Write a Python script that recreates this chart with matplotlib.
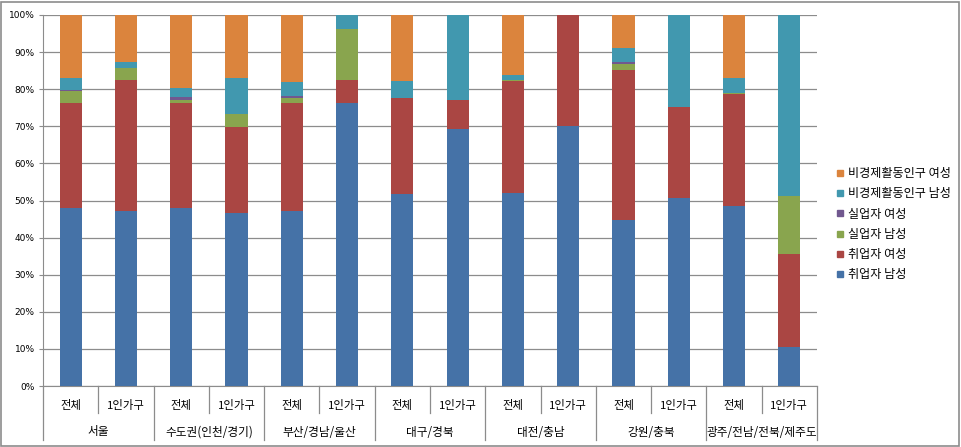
import matplotlib
matplotlib.use("Agg")
import matplotlib.pyplot as plt
from matplotlib.lines import Line2D
from matplotlib.patches import Rectangle
import matplotlib.transforms as mtrans
import numpy as np

plt.rcParams['font.family'] = ['Noto Sans CJK KR', 'DejaVu Sans']

groups = ["서울", "수도권(인천/경기)", "부산/경남/울산", "대구/경북", "대전/충남", "강원/충북", "광주/전남/전북/제주도"]
subcats = ["전체", "1인가구"]

series_names = ["취업자 남성", "취업자 여성", "실업자 남성", "실업자 여성", "비경제활동인구 남성", "비경제활동인구 여성"]
colors = ["#4572A7", "#AA4643", "#89A54E", "#71588F", "#4198AF", "#DB843D"]

emp_m = [48.0, 47.2, 48.0, 46.5, 47.2, 76.4, 51.7, 69.2, 52.0, 70.0, 44.7, 50.6, 48.4, 10.6]
emp_f = [28.4, 35.4, 28.4, 23.3, 29.2, 6.2, 25.8, 8.0, 30.3, 30.0, 40.6, 24.6, 30.2, 25.1]
unemp_m = [3.1, 3.1, 0.7, 3.4, 1.1, 13.7, 0.0, 0.0, 0.3, 0.0, 1.6, 0.0, 0.4, 15.4]
unemp_f = [0.3, 0.1, 0.7, 0.0, 0.8, 0.0, 0.0, 0.0, 0.0, 0.0, 0.3, 0.0, 0.0, 0.0]
inact_m = [3.1, 1.5, 2.4, 9.7, 3.6, 3.7, 4.8, 22.8, 1.2, 0.0, 4.0, 24.8, 3.9, 48.9]
inact_f = [17.1, 12.8, 19.8, 17.1, 18.1, 0.0, 17.7, 0.0, 16.2, 0.0, 8.8, 0.0, 17.1, 0.0]

series = [emp_m, emp_f, unemp_m, unemp_f, inact_m, inact_f]

W, H = 961, 447
fig = plt.figure(figsize=(W / 100, H / 100), dpi=100)
fig.patch.set_facecolor("white")
fig.patches.append(Rectangle((1 / W, 1 / H), 958 / W, 444 / H, transform=fig.transFigure,
                             fill=False, edgecolor="#8c8c8c", linewidth=1.2))

left, right, top, bottom = 43, 817, 15, 386
ax = fig.add_axes([left / W, (H - bottom) / H, (right - left) / W, (bottom - top) / H])

n = len(emp_m)
x = np.arange(n)
bottoms = np.zeros(n)
for vals, c in zip(series, colors):
    v = np.array(vals)
    ax.bar(x, v, width=0.4, bottom=bottoms, color=c, zorder=3, linewidth=0)
    bottoms += v

ax.set_xlim(-0.5, n - 0.5)
ax.set_ylim(0, 100)
ax.set_yticks(np.arange(0, 101, 10))
ax.set_yticklabels([f"{v}%" for v in range(0, 101, 10)], fontsize=6.5, family="DejaVu Sans")
ax.yaxis.grid(True, color="#8c8c8c", linewidth=0.9, zorder=0)
ax.set_xticks([])
ax.tick_params(axis="y", length=3, color="#8c8c8c", pad=3)
for s in ["top", "right"]:
    ax.spines[s].set_visible(False)
ax.spines["left"].set_color("#8c8c8c")
ax.spines["bottom"].set_color("#8c8c8c")

trans = mtrans.blended_transform_factory(ax.transData, ax.transAxes)
ph = bottom - top
short = -27 / ph
long_ = -54 / ph
for i in range(n + 1):
    xb = i - 0.5
    y2 = long_ if i % 2 == 0 else short
    ax.add_line(Line2D([xb, xb], [0, y2], transform=trans, color="#8c8c8c",
                       linewidth=0.9, clip_on=False))

for i in range(n):
    ax.text(i, -19 / ph, subcats[i % 2], transform=trans, ha="center", va="center", fontsize=8.2)
for g, name in enumerate(groups):
    ax.text(2 * g + 0.5, -46 / ph, name, transform=trans, ha="center", va="center", fontsize=8.4)

handles = [Line2D([], [], marker="s", linestyle="none", markersize=4.5, color=c)
           for c in colors]
leg = fig.legend(handles[::-1], series_names[::-1], loc="upper left",
                 bbox_to_anchor=(830 / W, 1 - 161 / H), frameon=False, fontsize=8.7,
                 handlelength=0.6, handletextpad=0.35, labelspacing=0.6, borderpad=0)

fig.savefig("out.png", dpi=100)
